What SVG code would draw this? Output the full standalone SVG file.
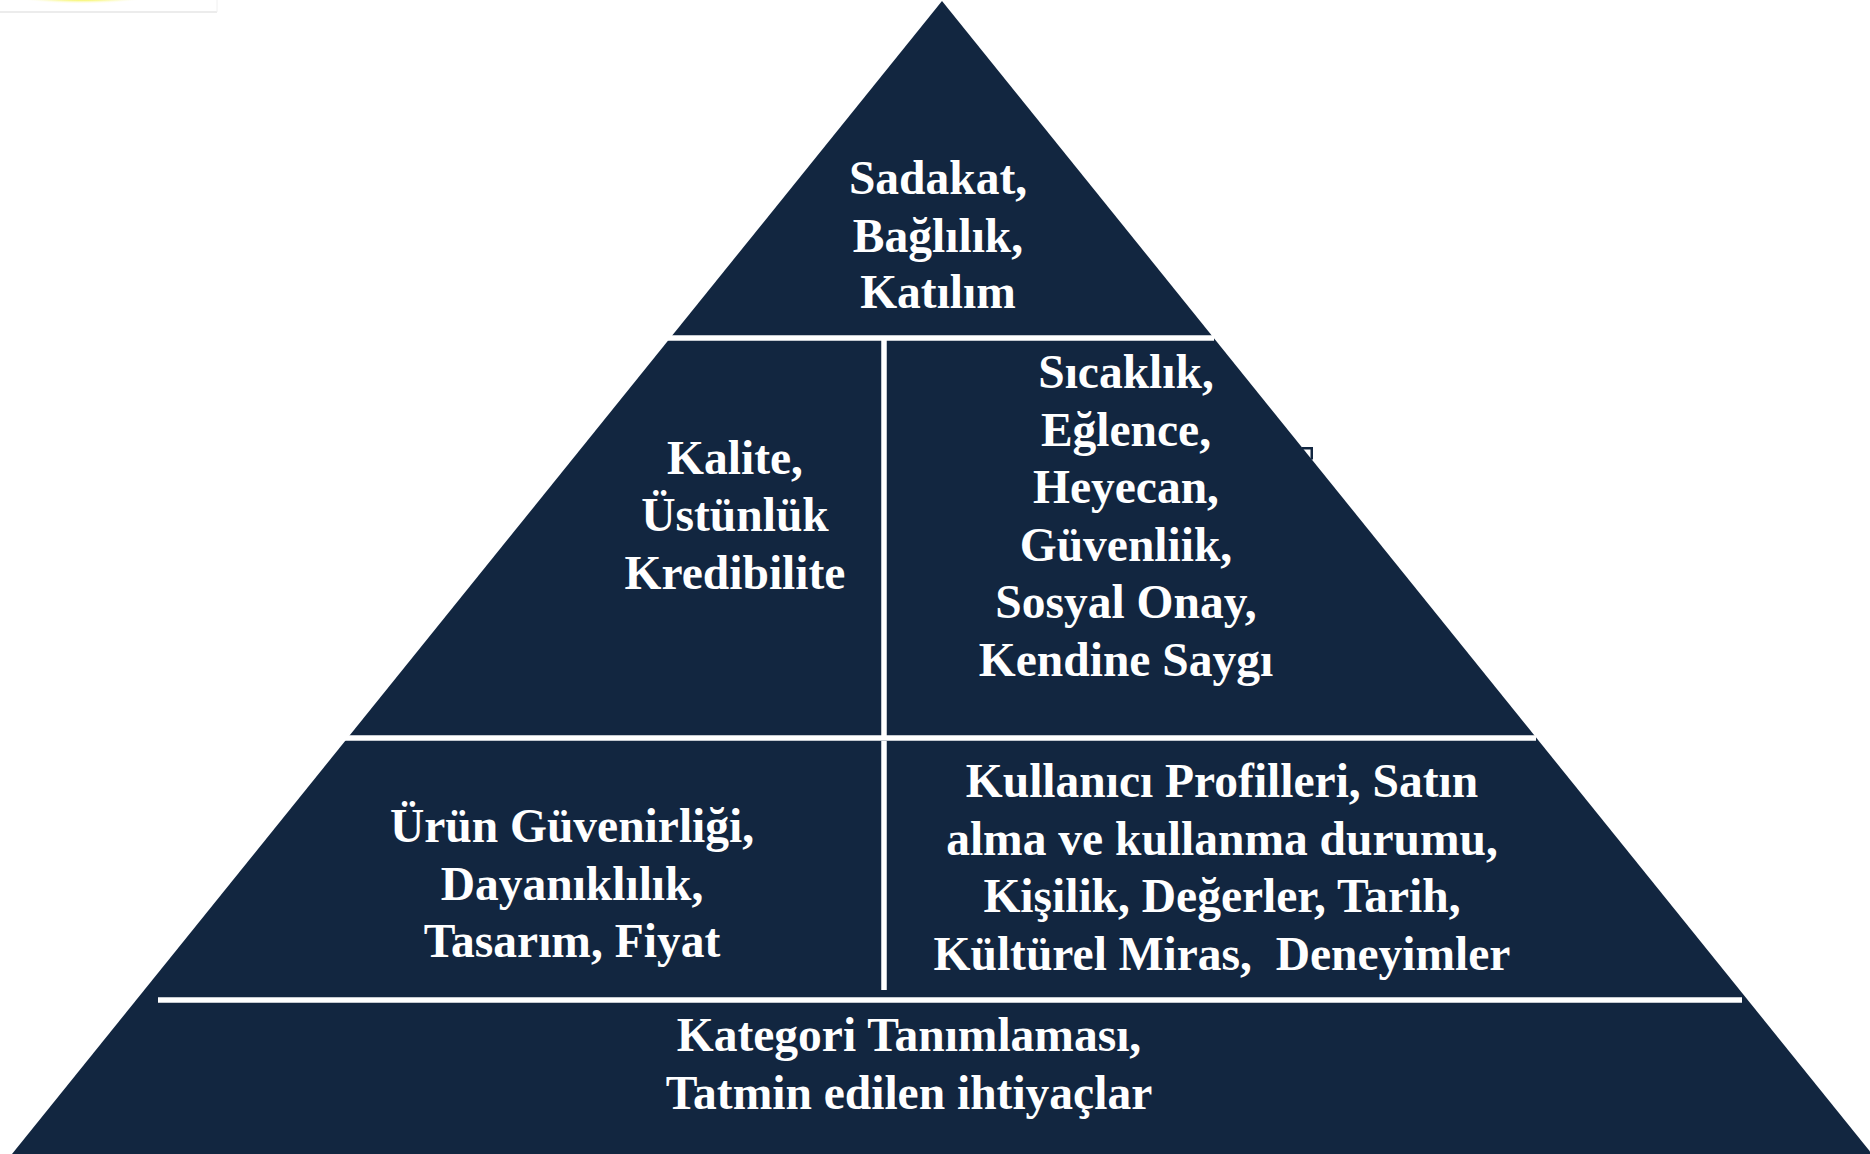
<svg xmlns="http://www.w3.org/2000/svg" width="1870" height="1154" viewBox="0 0 1870 1154">
<style>
.t{font-family:"Liberation Serif","Times New Roman",serif;font-weight:bold;font-size:47.5px;fill:#ffffff;text-anchor:middle;white-space:pre}
.sep{stroke:#ffffff;stroke-width:5.5;fill:none}
</style>
<defs>
<radialGradient id="yel" cx="0.5" cy="0.5" r="0.5">
<stop offset="0" stop-color="#f2f000"/>
<stop offset="0.6" stop-color="#f4f23a" stop-opacity="0.8"/>
<stop offset="1" stop-color="#ffffff" stop-opacity="0"/>
</radialGradient>
</defs>
<rect width="1870" height="1154" fill="#ffffff"/>
<g id="corner">
<ellipse cx="82" cy="-6" rx="75" ry="10" fill="url(#yel)"/>
<line x1="0" y1="12" x2="217" y2="12" stroke="#e6e6e6" stroke-width="1.5"/>
<line x1="217" y1="0" x2="217" y2="12" stroke="#f0f0f0" stroke-width="1"/>
</g>
<g id="pyramid">
<polygon points="942,1 12,1154 1872,1154" fill="#122640"/>
<path d="M1302,447 L1313,447 L1313,459.5 L1310.5,459.5 L1310.5,449.5 L1302,449.5 Z" fill="#122640"/>
</g>
<g id="separators">
<line class="sep" x1="668" y1="338" x2="1214" y2="338"/>
<line class="sep" x1="345" y1="738" x2="1536" y2="738"/>
<line class="sep" x1="158" y1="1000" x2="1742" y2="1000"/>
<line class="sep" x1="884" y1="340" x2="884" y2="736"/>
<line class="sep" x1="884" y1="741" x2="884" y2="990"/>
</g>
<g id="node-top">
<text class="t" x="938" y="194">Sadakat,</text>
<text class="t" x="938" y="251.5">Bağlılık,</text>
<text class="t" x="938" y="308">Katılım</text>
</g>
<g id="node-mid-left">
<text class="t" x="735" y="474">Kalite,</text>
<text class="t" x="735" y="531">Üstünlük</text>
<text class="t" x="735" y="589">Kredibilite</text>
</g>
<g id="node-mid-right">
<text class="t" x="1126" y="388">Sıcaklık,</text>
<text class="t" x="1126" y="445.5">Eğlence,</text>
<text class="t" x="1126" y="503">Heyecan,</text>
<text class="t" x="1126" y="560.5">Güvenliik,</text>
<text class="t" x="1126" y="618">Sosyal Onay,</text>
<text class="t" x="1126" y="676">Kendine Saygı</text>
</g>
<g id="node-low-left">
<text class="t" x="572" y="842">Ürün Güvenirliği,</text>
<text class="t" x="572" y="900">Dayanıklılık,</text>
<text class="t" x="572" y="957">Tasarım, Fiyat</text>
</g>
<g id="node-low-right">
<text class="t" x="1222" y="797">Kullanıcı Profilleri, Satın</text>
<text class="t" x="1222" y="855">alma ve kullanma durumu,</text>
<text class="t" x="1222" y="912">Kişilik, Değerler, Tarih,</text>
<text class="t" x="1222" y="970">Kültürel Miras,  Deneyimler</text>
</g>
<g id="node-base">
<text class="t" x="909" y="1051">Kategori Tanımlaması,</text>
<text class="t" x="909" y="1109">Tatmin edilen ihtiyaçlar</text>
</g>
</svg>
